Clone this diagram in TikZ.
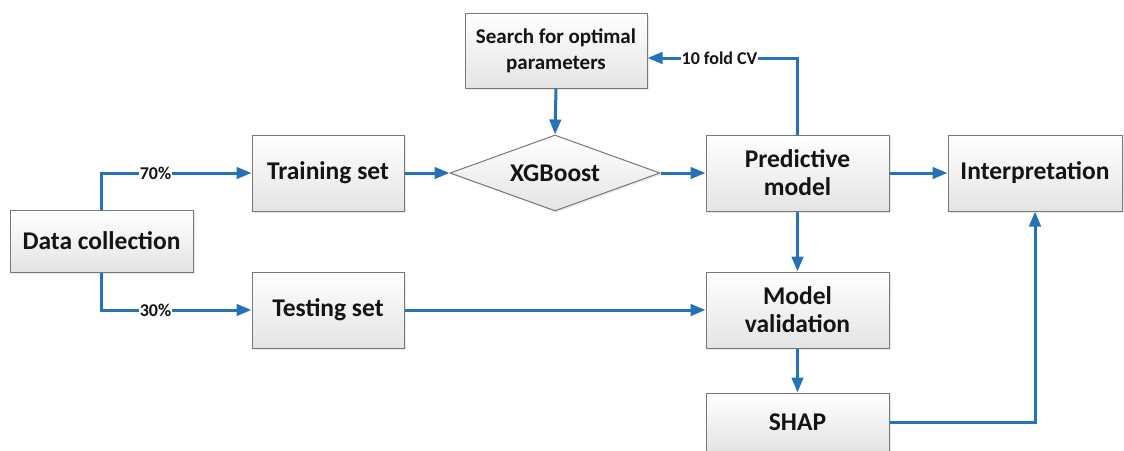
\documentclass[tikz,border=0pt]{standalone}
\usepackage{fontspec}
\setmainfont{Carlito}
\usetikzlibrary{arrows.meta,shapes.geometric,shadows,calc}
\definecolor{flowblue}{RGB}{38,114,184}
\definecolor{boxline}{RGB}{120,120,120}
\definecolor{boxlow}{RGB}{228,228,228}
\definecolor{ink}{RGB}{20,20,20}
\tikzset{
  stage/.style={draw=boxline, line width=1pt, top color=white, bottom color=boxlow,
    drop shadow={opacity=0.18, shadow xshift=1.5pt, shadow yshift=-1.5pt},
    align=center, font=\fontsize{25.5}{28}\selectfont\bfseries, text=ink, inner sep=2pt},
  decision/.style={stage, shape=diamond, aspect=2.76, inner sep=0pt},
  flow/.style={draw=flowblue, line width=3pt, -{Triangle[length=15pt,width=11.5pt]}},
  cut/.style={fill=white, inner sep=1pt, font=\fontsize{18}{20}\selectfont\bfseries, text=ink}
}
\begin{document}
\begin{tikzpicture}[x=1pt,y=-1pt]
\useasboundingbox (0,0) rectangle (1124,450);
\clip (0,0) rectangle (1124,450);

% stages of the workflow
\node[stage, minimum width=183pt, minimum height=62pt] (data)   at (101.5,241) {Data collection};
\node[stage, minimum width=152pt, minimum height=76pt] (train)  at (328,173)   {Training set};
\node[stage, minimum width=152pt, minimum height=76pt] (test)   at (328,310)   {Testing set};
\node[stage, minimum width=182pt, minimum height=75pt, font=\fontsize{21}{26}\selectfont\bfseries] (search) at (556,50.5) {Search for optimal\\parameters};
\node[decision, minimum width=210pt, minimum height=76pt] (xgb) at (555,173) {XGBoost};
\node[stage, minimum width=183pt, minimum height=76pt] (pred)   at (797.5,173) {Predictive\\model};
\node[stage, minimum width=174pt, minimum height=76pt] (interp) at (1035,173) {Interpretation};
\node[stage, minimum width=183pt, minimum height=76pt] (valid)  at (797.5,310) {Model\\validation};
\node[stage, minimum width=183pt, minimum height=58pt] (shap)   at (797.5,422) {SHAP};

% data split
\draw[flow] (data.north) |- node[cut, pos=0.68] {70\%} (train.west);
\draw[flow] (data.south) |- node[cut, pos=0.68] {30\%} (test.west);

% model building
\draw[flow] (train.east) -- (xgb.west);
\draw[flow] (search.south) -- (xgb.north);
\draw[flow] (xgb.east) -- (pred.west);
\coordinate (cvin) at ([yshift=-7.5pt]search.east);
\draw[flow] (pred.north) |- node[cut, pos=0.76] {10 fold CV} (cvin);

% evaluation and explanation
\draw[flow] (pred.east) -- (interp.west);
\draw[flow] (pred.south) -- (valid.north);
\draw[flow] (test.east) -- (valid.west);
\draw[flow] (valid.south) -- (shap.north);
\draw[flow] (shap.east) -| (interp.south);
\end{tikzpicture}
\end{document}
